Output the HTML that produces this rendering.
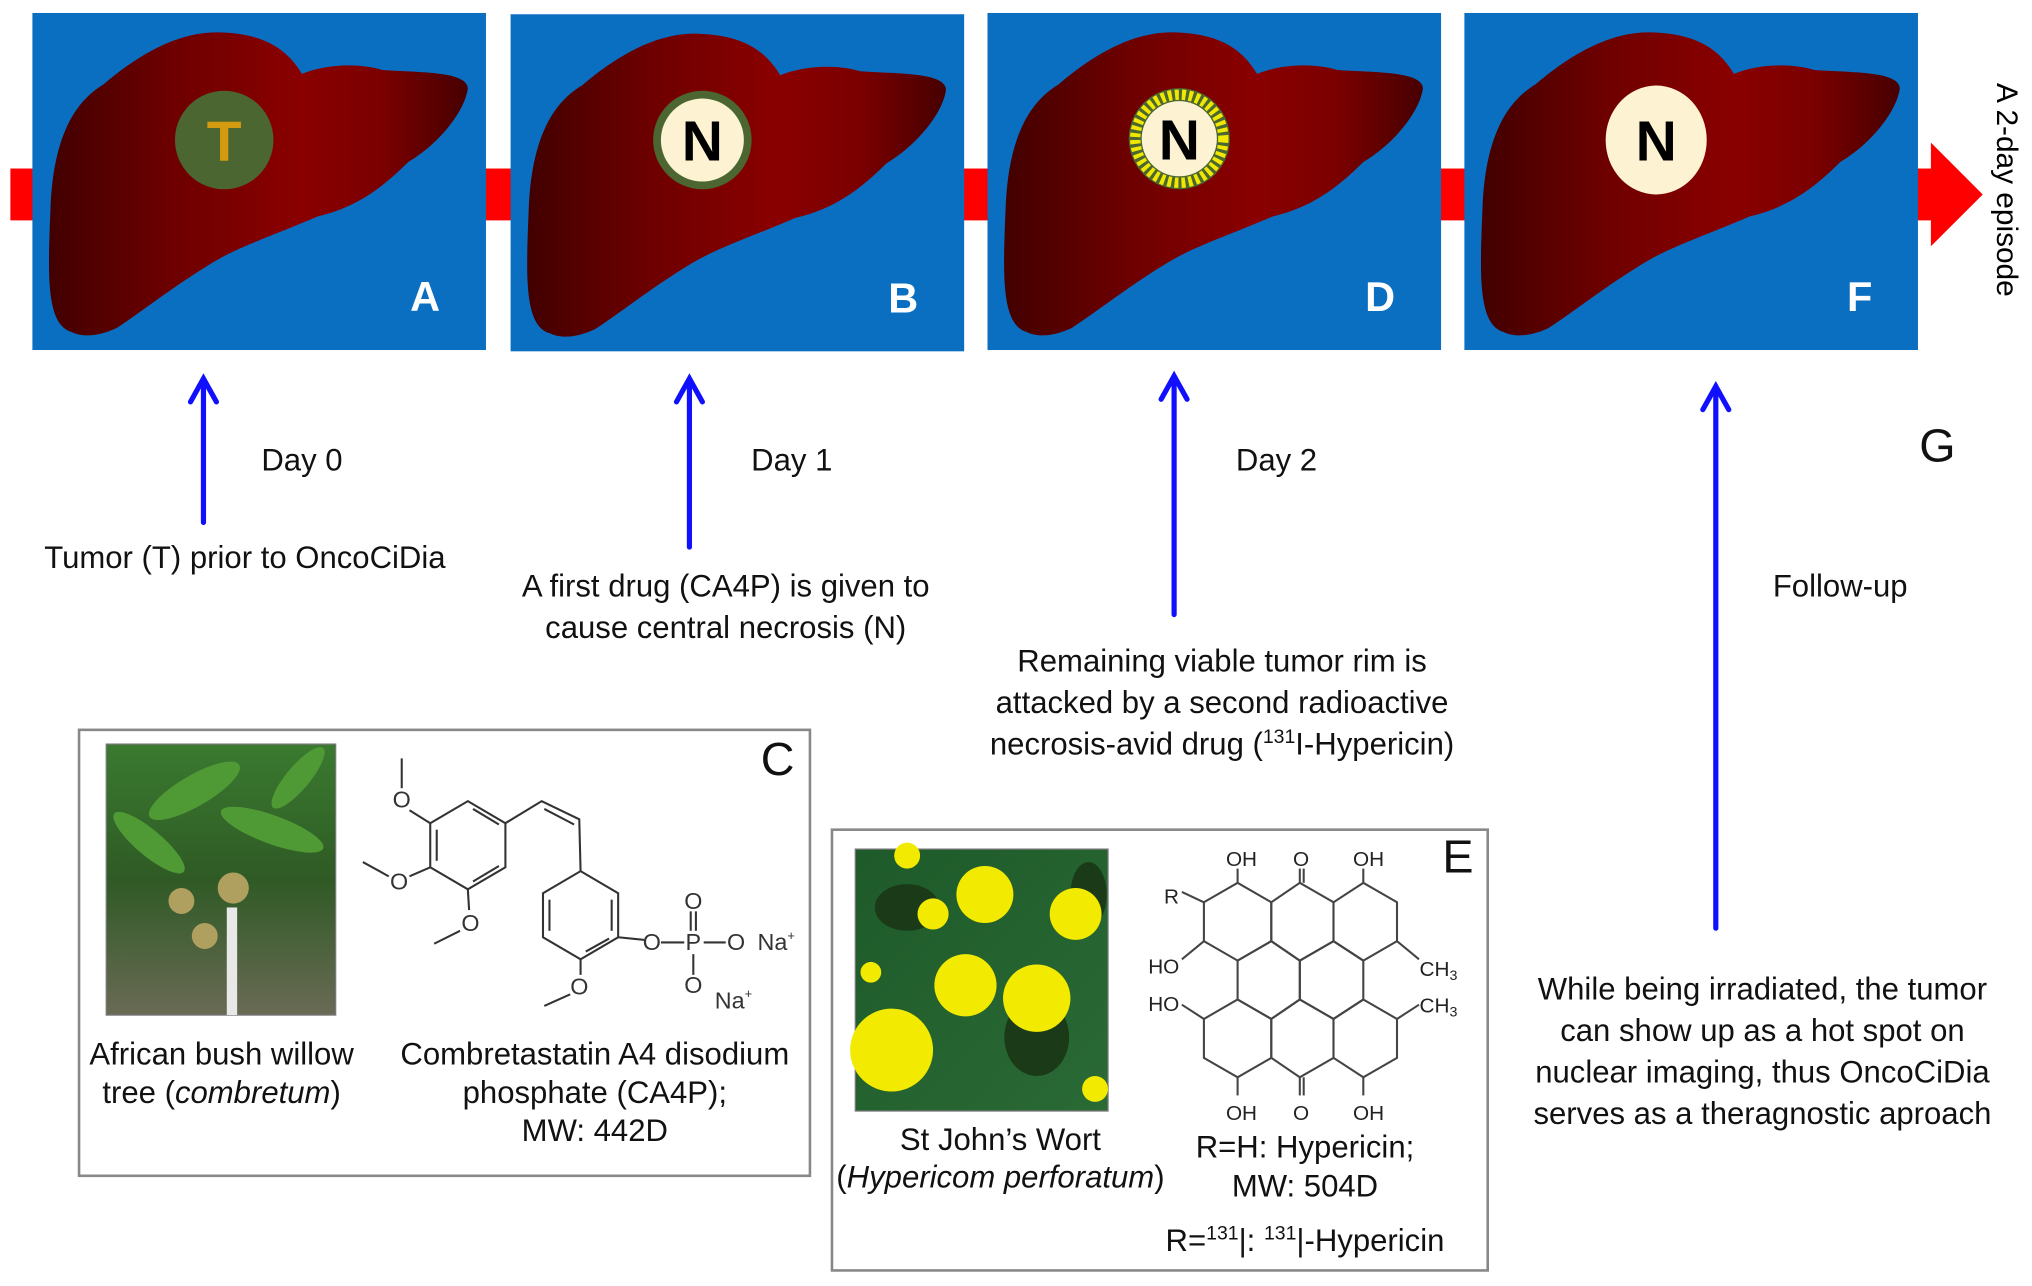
<!DOCTYPE html>
<html><head><meta charset="utf-8"><style>
html,body{margin:0;padding:0;background:#fff}
svg{display:block}
text{font-family:"Liberation Sans",Arial,sans-serif}
</style></head><body>
<svg width="2032" height="1286" viewBox="0 0 1568 992" preserveAspectRatio="none" xmlns="http://www.w3.org/2000/svg">
<defs>
<linearGradient id="lg" x1="0" x2="1" y1="0" y2="0">
<stop offset="0" stop-color="#420000"/><stop offset="0.3" stop-color="#6e0000"/><stop offset="0.6" stop-color="#8a0000"/><stop offset="0.8" stop-color="#7a0000"/><stop offset="1" stop-color="#460000"/>
</linearGradient>
<path id="liver" d="M30,246 C10,240 12,200 14,150 C16,100 30,70 55,55 C90,25 120,14 145,15 C175,16 195,25 208,47 C225,40 250,38 270,44 C300,46 335,45 336,58 C334,75 315,100 290,115 C270,135 250,150 220,157 C190,170 160,180 140,192 C110,210 85,230 65,243 C50,250 38,250 30,246 Z" fill="url(#lg)"/>
<linearGradient id="gp" x1="0" x2="0" y1="0" y2="1"><stop offset="0" stop-color="#3a7a30"/><stop offset="0.5" stop-color="#2f5a25"/><stop offset="1" stop-color="#6a6a55"/></linearGradient>
<linearGradient id="gp2" x1="0" x2="1" y1="0" y2="1"><stop offset="0" stop-color="#1e5a2a"/><stop offset="1" stop-color="#2a6a35"/></linearGradient>
</defs>

<rect x="8" y="130" width="1485" height="40" fill="#ff0000"/>
<polygon points="1490,110 1530,150 1490,190" fill="#ff0000"/>

<g transform="translate(25,10)"><rect width="350" height="260" fill="#0a6fc0"/><use href="#liver"/>
<circle cx="148" cy="98" r="38" fill="#4b6630"/><text x="148" y="114" font-size="44" font-weight="bold" fill="#d49a10" text-anchor="middle">T</text>
<text x="303" y="230" font-size="32" font-weight="bold" fill="#fff" text-anchor="middle">A</text></g>

<g transform="translate(394,11)"><rect width="350" height="260" fill="#0a6fc0"/><use href="#liver"/>
<circle cx="148" cy="97" r="38" fill="#4b6630"/><circle cx="148" cy="97" r="32" fill="#fdf3d2"/><text x="148" y="113" font-size="44" font-weight="bold" fill="#000" text-anchor="middle">N</text>
<text x="303" y="230" font-size="32" font-weight="bold" fill="#fff" text-anchor="middle">B</text></g>

<g transform="translate(762,10)"><rect width="350" height="260" fill="#0a6fc0"/><use href="#liver"/>
<circle cx="148" cy="97" r="39" fill="#4b6630"/><circle cx="148" cy="97" r="34" fill="none" stroke="#f0e800" stroke-width="8" stroke-dasharray="3 2.4"/><circle cx="148" cy="97" r="29" fill="#fdf3d2"/><text x="148" y="113" font-size="44" font-weight="bold" fill="#000" text-anchor="middle">N</text>
<text x="303" y="230" font-size="32" font-weight="bold" fill="#fff" text-anchor="middle">D</text></g>

<g transform="translate(1130,10)"><rect width="350" height="260" fill="#0a6fc0"/><use href="#liver"/>
<ellipse cx="148" cy="98" rx="39" ry="42" fill="#fdf3d2"/><text x="148" y="114" font-size="44" font-weight="bold" fill="#000" text-anchor="middle">N</text>
<text x="305" y="230" font-size="32" font-weight="bold" fill="#fff" text-anchor="middle">F</text></g>

<text transform="translate(1541,64) rotate(90)" font-size="23" fill="#000">A 2-day episode</text>

<g stroke="#1010ff" stroke-width="4" fill="none" stroke-linecap="round">
<line x1="157" y1="403" x2="157" y2="294"/><polyline points="147,310 157,292 167,310"/>
<line x1="532" y1="422" x2="532" y2="294"/><polyline points="522,310 532,292 542,310"/>
<line x1="906" y1="474" x2="906" y2="292"/><polyline points="896,308 906,290 916,308"/>
<line x1="1324" y1="716" x2="1324" y2="300"/><polyline points="1314,316 1324,298 1334,316"/>
</g>

<g font-size="24" fill="#111" text-anchor="middle">
<text x="233" y="363">Day 0</text>
<text x="611" y="363">Day 1</text>
<text x="985" y="363">Day 2</text>
<text x="1420" y="460">Follow-up</text>
<text x="189" y="438">Tumor (T) prior to OncoCiDia</text>
<text x="560" y="460">A first drug (CA4P) is given to</text>
<text x="560" y="492">cause central necrosis (N)</text>
<text x="943" y="518">Remaining viable tumor rim is</text>
<text x="943" y="550">attacked by a second radioactive</text>
<text x="943" y="582">necrosis-avid drug (<tspan font-size="15" dy="-9">131</tspan><tspan dy="9">I-Hypericin)</tspan></text>
<text x="1360" y="771">While being irradiated, the tumor</text>
<text x="1360" y="803">can show up as a hot spot on</text>
<text x="1360" y="835">nuclear imaging, thus OncoCiDia</text>
<text x="1360" y="867">serves as a theragnostic aproach</text>
</g>
<text x="1495" y="356" font-size="36" fill="#111" text-anchor="middle">G</text>

<rect x="61" y="563" width="564" height="344" fill="#fff" stroke="#888" stroke-width="2"/>
<rect x="82" y="574" width="177" height="209" fill="url(#gp)" stroke="#777"/>
<g fill="#4f9a35"><ellipse cx="150" cy="610" rx="40" ry="12" transform="rotate(-30 150 610)"/><ellipse cx="210" cy="640" rx="42" ry="11" transform="rotate(20 210 640)"/><ellipse cx="115" cy="650" rx="35" ry="10" transform="rotate(40 115 650)"/><ellipse cx="230" cy="600" rx="30" ry="9" transform="rotate(-50 230 600)"/></g>
<g fill="#b0a060"><circle cx="180" cy="685" r="12"/><circle cx="140" cy="695" r="10"/><circle cx="158" cy="722" r="10"/></g>
<rect x="175" y="700" width="8" height="83" fill="#e8e8e8"/>
<text x="600" y="598" font-size="36" fill="#111" text-anchor="middle">C</text>
<g font-size="24" fill="#111" text-anchor="middle">
<text x="171" y="821">African bush willow</text>
<text x="171" y="851">tree (<tspan font-style="italic">combretum</tspan>)</text>
<text x="459" y="821">Combretastatin A4 disodium</text>
<text x="459" y="851">phosphate (CA4P);</text>
<text x="459" y="880">MW: 442D</text>
</g>
<g stroke="#333" stroke-width="1.6" fill="none">
<polygon points="361,618 390,635 390,669 361,686 332,669 332,635"/>
<line x1="337" y1="640" x2="337" y2="664"/><line x1="365" y1="624" x2="385" y2="636"/><line x1="365" y1="680" x2="385" y2="668"/>
<polyline points="390,635 418,618 447,632 448,672"/><line x1="420" y1="624" x2="443" y2="636"/>
<polygon points="448,672 477,689 477,723 448,740 419,723 419,689"/>
<line x1="424" y1="694" x2="424" y2="718"/><line x1="472" y1="694" x2="472" y2="718"/><line x1="452" y1="734" x2="470" y2="724"/>
<line x1="332" y1="635" x2="316" y2="625"/><line x1="310" y1="608" x2="310" y2="585"/>
<line x1="332" y1="669" x2="316" y2="676"/><line x1="300" y1="676" x2="280" y2="665"/>
<line x1="361" y1="686" x2="362" y2="702"/><line x1="355" y1="718" x2="335" y2="728"/>
<line x1="477" y1="723" x2="497" y2="725"/><line x1="510" y1="727" x2="528" y2="727"/><line x1="543" y1="727" x2="560" y2="727"/>
<line x1="533" y1="703" x2="533" y2="718"/><line x1="537" y1="703" x2="537" y2="718"/><line x1="535" y1="736" x2="535" y2="752"/>
<line x1="448" y1="740" x2="448" y2="752"/><line x1="440" y1="767" x2="420" y2="776"/>
</g>
<g font-size="18" fill="#333" text-anchor="middle">
<text x="310" y="623">O</text><text x="308" y="686">O</text><text x="363" y="718">O</text>
<text x="503" y="733">O</text><text x="535" y="733">P</text><text x="568" y="733">O</text>
<text x="535" y="701">O</text><text x="535" y="766">O</text><text x="447" y="767">O</text>
<text x="599" y="733">Na<tspan font-size="10" dy="-8">+</tspan></text><text x="566" y="778">Na<tspan font-size="10" dy="-8">+</tspan></text>
</g>

<rect x="642" y="640" width="506" height="340" fill="#fff" stroke="#888" stroke-width="2"/>
<rect x="660" y="655" width="195" height="202" fill="url(#gp2)" stroke="#777"/>
<g fill="#1a3a18"><ellipse cx="700" cy="700" rx="25" ry="18"/><ellipse cx="800" cy="800" rx="25" ry="30"/><ellipse cx="840" cy="690" rx="14" ry="25"/></g>
<g fill="#f2ea00"><circle cx="760" cy="690" r="22"/><circle cx="688" cy="810" r="32"/><circle cx="745" cy="760" r="24"/><circle cx="800" cy="770" r="26"/><circle cx="830" cy="705" r="20"/><circle cx="700" cy="660" r="10"/><circle cx="720" cy="705" r="12"/><circle cx="845" cy="840" r="10"/><circle cx="672" cy="750" r="8"/></g>
<text x="1125" y="673" font-size="36" fill="#111" text-anchor="middle">E</text>
<g font-size="24" fill="#111" text-anchor="middle">
<text x="772" y="887">St John’s Wort</text>
<text x="772" y="916">(<tspan font-style="italic">Hypericom perforatum</tspan>)</text>
<text x="1007" y="893">R=H: Hypericin;</text>
<text x="1007" y="923">MW: 504D</text>
<text x="1007" y="965">R=<tspan font-size="15" dy="-9">131</tspan><tspan dy="9">|: </tspan><tspan font-size="15" dy="-9">131</tspan><tspan dy="9">|-Hypericin</tspan></text>
</g>
<g stroke="#444" stroke-width="1.6" fill="none">
<polygon points="955,681 981,696 981,726 955,741 929,726 929,696"/>
<polygon points="1003,681 1029,696 1029,726 1003,741 981,726 981,696"/>
<polygon points="1052,681 1078,696 1078,726 1052,741 1029,726 1029,696"/>
<polygon points="981,726 1003,741 1003,771 981,786 955,771 955,741"/>
<polygon points="1029,726 1052,741 1052,771 1029,786 1003,771 1003,741"/>
<polygon points="955,771 981,786 981,816 955,831 929,816 929,786"/>
<polygon points="1003,771 1029,786 1029,816 1003,831 981,816 981,786"/>
<polygon points="1052,771 1078,786 1078,816 1052,831 1029,816 1029,786"/>
<line x1="955" y1="681" x2="955" y2="670"/><line x1="1003" y1="681" x2="1003" y2="670"/><line x1="1006" y1="681" x2="1006" y2="670"/><line x1="1052" y1="681" x2="1052" y2="670"/>
<line x1="955" y1="831" x2="955" y2="845"/><line x1="1003" y1="831" x2="1003" y2="845"/><line x1="1006" y1="831" x2="1006" y2="845"/><line x1="1052" y1="831" x2="1052" y2="845"/>
<line x1="929" y1="696" x2="912" y2="688"/><line x1="929" y1="726" x2="912" y2="740"/><line x1="929" y1="786" x2="912" y2="775"/>
<line x1="1078" y1="726" x2="1095" y2="740"/><line x1="1078" y1="786" x2="1095" y2="775"/>
</g>
<g font-size="16" fill="#222" text-anchor="middle">
<text x="958" y="668">OH</text><text x="1004" y="668">O</text><text x="1056" y="668">OH</text>
<text x="904" y="697">R</text><text x="898" y="751">HO</text><text x="898" y="780">HO</text>
<text x="1110" y="753">CH<tspan font-size="11" dy="3">3</tspan></text><text x="1110" y="781">CH<tspan font-size="11" dy="3">3</tspan></text>
<text x="958" y="864">OH</text><text x="1004" y="864">O</text><text x="1056" y="864">OH</text>
</g>
</svg>
</body></html>
